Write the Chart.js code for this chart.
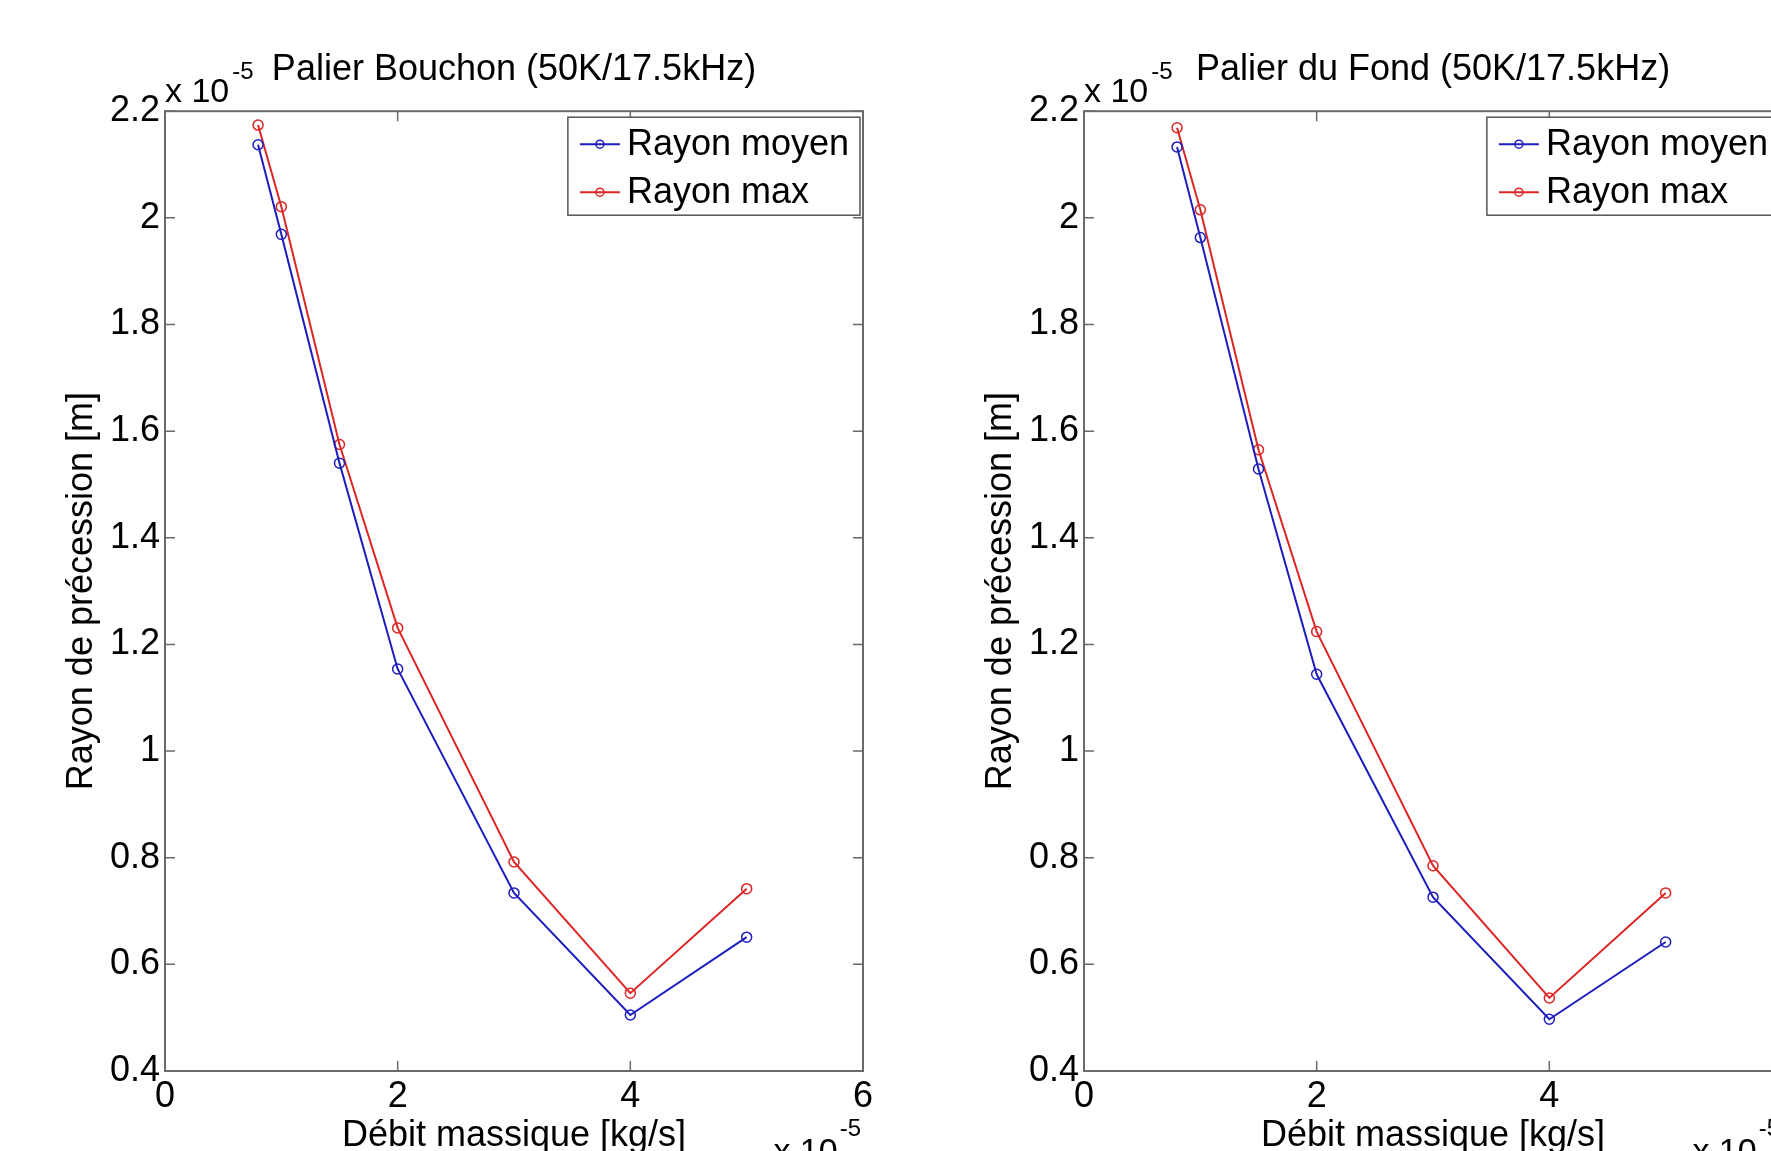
<!DOCTYPE html>
<html>
<head>
<meta charset="utf-8">
<script src="https://cdn.jsdelivr.net/npm/chart.js@4.4.1/dist/chart.umd.min.js"></script>
<style>
  html, body { margin: 0; padding: 0; background: #fff; overflow: hidden; width: 1771px; height: 1151px; }
  canvas { position: absolute; top: 0; }
  #grapheBouchon { left: 0; }
  #grapheFond { left: 919px; }
</style>
</head>
<body>
<canvas id="grapheBouchon" width="885" height="1160"></canvas>
<canvas id="grapheFond" width="885" height="1160"></canvas>
<script>
// Débit massique et rayons, en unités de 1e-5
const debit = [0.8, 1, 1.5, 2, 3, 4, 5];
const bouchonMoyen = [2.137, 1.969, 1.540, 1.154, 0.734, 0.505, 0.651];
const bouchonMax = [2.174, 2.021, 1.575, 1.231, 0.792, 0.546, 0.742];
const fondMoyen = [2.133, 1.963, 1.529, 1.144, 0.726, 0.497, 0.642];
const fondMax = [2.169, 2.015, 1.565, 1.224, 0.785, 0.537, 0.734];

const xTicks = [0, 2, 4, 6];
const xTickLabels = ["0", "2", "4", "6"];
const yTicks = [0.4, 0.6, 0.8, 1, 1.2, 1.4, 1.6, 1.8, 2, 2.2];
const yTickLabels = ["0.4", "0.6", "0.8", "1", "1.2", "1.4", "1.6", "1.8", "2", "2.2"];

const bleu = "#1e1ebe";
const rouge = "#dc2626";
const police = "'Liberation Sans', Arial, sans-serif";

Chart.defaults.font.family = police;
Chart.defaults.font.size = 36;
Chart.defaults.color = "#000";

// Cadre, graduations vers l'intérieur, légende et exposants façon MATLAB
const cadreMatlab = {
  id: "cadreMatlab",
  afterDraw(chart) {
    const ctx = chart.ctx;
    const a = chart.chartArea;
    const sx = chart.scales.x;
    const sy = chart.scales.y;
    ctx.save();

    // graduations
    ctx.strokeStyle = "#6a6a6a";
    ctx.lineWidth = 1.5;
    ctx.beginPath();
    sx.ticks.forEach(t => {
      const px = sx.getPixelForValue(t.value);
      ctx.moveTo(px, a.bottom); ctx.lineTo(px, a.bottom - 10);
      ctx.moveTo(px, a.top); ctx.lineTo(px, a.top + 10);
    });
    sy.ticks.forEach(t => {
      const py = sy.getPixelForValue(t.value);
      ctx.moveTo(a.left, py); ctx.lineTo(a.left + 10, py);
      ctx.moveTo(a.right, py); ctx.lineTo(a.right - 10, py);
    });
    ctx.stroke();

    // cadre
    ctx.lineWidth = 2;
    ctx.strokeRect(a.left, a.top, a.right - a.left, a.bottom - a.top);

    // légende
    ctx.font = "36px " + police;
    const labels = chart.data.datasets.map(d => d.label);
    const largeurTexte = Math.max(...labels.map(l => ctx.measureText(l).width));
    const boiteW = 59 + largeurTexte + 11;
    const boiteH = 98;
    const bx = a.right - 3 - boiteW;
    const by = a.top + 6;
    ctx.fillStyle = "#fff";
    ctx.fillRect(bx, by, boiteW, boiteH);
    ctx.strokeStyle = "#555";
    ctx.lineWidth = 1.5;
    ctx.strokeRect(bx, by, boiteW, boiteH);
    chart.data.datasets.forEach((d, i) => {
      const ly = by + 27 + i * 48;
      ctx.strokeStyle = d.borderColor;
      ctx.lineWidth = 2;
      ctx.beginPath();
      ctx.moveTo(bx + 12, ly); ctx.lineTo(bx + 52, ly);
      ctx.stroke();
      ctx.lineWidth = 1.5;
      ctx.beginPath();
      ctx.arc(bx + 32, ly, 4, 0, Math.PI * 2);
      ctx.stroke();
      ctx.fillStyle = "#000";
      ctx.textAlign = "left";
      ctx.textBaseline = "middle";
      ctx.fillText(d.label, bx + 59, ly + 1);
    });

    // exposants x 10^-5
    ctx.fillStyle = "#000";
    ctx.textBaseline = "middle";
    ctx.textAlign = "left";
    ctx.font = "34px " + police;
    ctx.fillText("x 10", a.left, a.top - 19);
    const wBase = ctx.measureText("x 10").width;
    ctx.font = "24px " + police;
    ctx.fillText("-5", a.left + wBase + 3, a.top - 39);

    ctx.textAlign = "right";
    ctx.fillText("-5", a.right - 2, a.bottom + 58);
    const wExp = ctx.measureText("-5").width;
    ctx.font = "34px " + police;
    ctx.fillText("x 10", a.right - 2 - wExp - 2, a.bottom + 82);

    ctx.restore();
  }
};

function creerGraphe(id, titre, moyen, max) {
  return new Chart(id, {
    type: "line",
    data: {
      datasets: [
        {
          label: "Rayon moyen",
          data: debit.map((x, i) => ({ x: x, y: moyen[i] })),
          borderColor: bleu,
          borderWidth: 2,
          pointRadius: 5,
          pointBorderWidth: 1.5,
          pointBorderColor: bleu,
          pointBackgroundColor: "rgba(0,0,0,0)",
          tension: 0
        },
        {
          label: "Rayon max",
          data: debit.map((x, i) => ({ x: x, y: max[i] })),
          borderColor: rouge,
          borderWidth: 2,
          pointRadius: 5,
          pointBorderWidth: 1.5,
          pointBorderColor: rouge,
          pointBackgroundColor: "rgba(0,0,0,0)",
          tension: 0
        }
      ]
    },
    options: {
      responsive: false,
      animation: false,
      layout: { padding: { left: 60, right: 22, top: 0, bottom: 0 } },
      plugins: {
        legend: { display: false },
        tooltip: { enabled: false },
        title: {
          display: true,
          fullSize: false,
          text: titre,
          font: { size: 36, weight: "normal" },
          padding: { top: 48, bottom: 20 }
        }
      },
      scales: {
        x: {
          type: "linear",
          min: 0,
          max: 6,
          afterBuildTicks: s => { s.ticks = xTicks.map(v => ({ value: v })); },
          afterFit: s => { s.height = 89; },
          ticks: { callback: (v, i) => xTickLabels[i], padding: 4, maxRotation: 0, autoSkip: false },
          grid: { display: false, drawTicks: false },
          border: { display: false },
          title: { display: true, text: "Débit massique [kg/s]", padding: { top: 0, bottom: 2 } }
        },
        y: {
          min: 0.4,
          max: 2.2,
          afterBuildTicks: s => { s.ticks = yTicks.map(v => ({ value: v })); },
          afterFit: s => { s.width = 105; },
          ticks: { callback: (v, i) => yTickLabels[i], padding: 5, autoSkip: false },
          grid: { display: false, drawTicks: false },
          border: { display: false },
          title: { display: true, text: "Rayon de précession [m]", padding: { top: 0, bottom: 0 } }
        }
      }
    },
    plugins: [cadreMatlab]
  });
}

creerGraphe("grapheBouchon", "Palier Bouchon (50K/17.5kHz)", bouchonMoyen, bouchonMax);
creerGraphe("grapheFond", "Palier du Fond (50K/17.5kHz)", fondMoyen, fondMax);
</script>
</body>
</html>
